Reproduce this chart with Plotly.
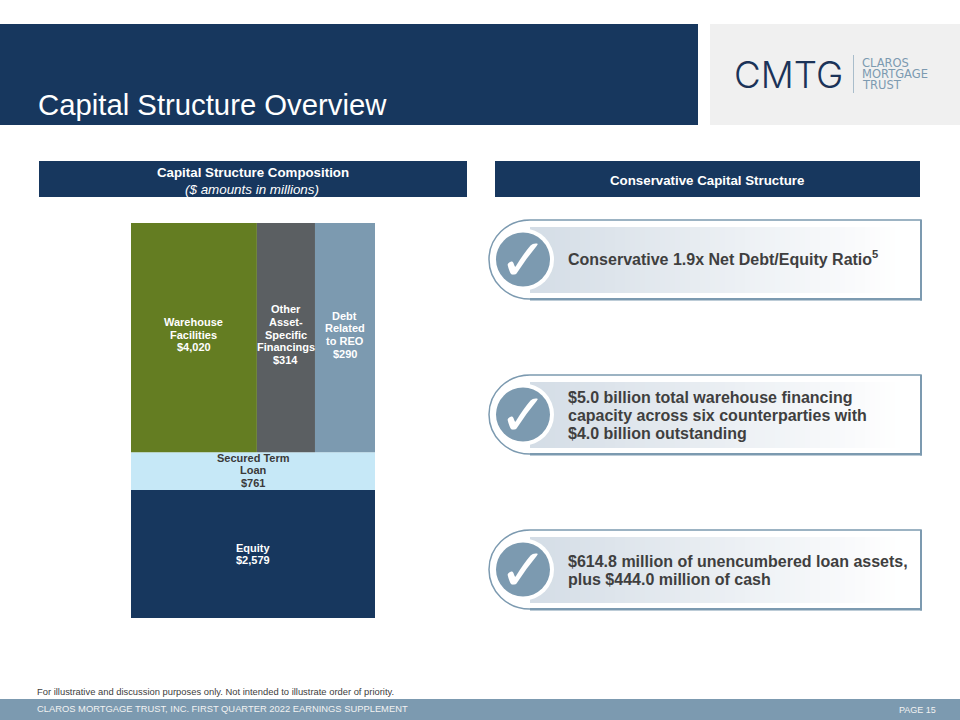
import plotly.graph_objects as go

# capital structure, $ millions
top_names = [["Warehouse", "Facilities"], ["Other", "Asset-", "Specific", "Financings"], ["Debt", "Related", "to REO"]]
top_values = [4020, 314, 290]
top_shares = [0.516, 0.238, 0.246]  # column widths are not to scale in the original
top_colors = ["#647D22", "#5B5F62", "#7C9AB0"]
stack_names = [["Equity"], ["Secured Term", "Loan"]]
stack_values = [2579, 761]
stack_colors = ["#17375E", "#C6E8F7"]
stack_text = ["#FFFFFF", "#3A3A3A"]
stack_lift = [0, 1]

callouts = [
    ["Conservative 1.9x Net Debt/Equity Ratio<sup>5</sup>"],
    ["$5.0 billion total warehouse financing", "capacity across six counterparties with", "$4.0 billion outstanding"],
    ["$614.8 million of unencumbered loan assets,", "plus $444.0 million of cash"],
]
callout_tops = [220, 375, 530]
callout_nudge = [-2, 0.5, 1]

NAVY = "#17375E"
STEEL = "#7C9AB0"
FONT = "Liberation Sans"


def rect(x0, y0, x1, y1, color, layer="below"):
    return dict(type="rect", xref="x2", yref="y2", x0=x0, y0=y0, x1=x1, y1=y1,
                fillcolor=color, line_width=0, layer=layer)


def label(x, y, text, size, color, anchor="left", family=FONT, weight=None):
    return dict(xref="x2", yref="y2", x=x, y=y, text=text, showarrow=False, xanchor=anchor, yanchor="middle",
                align=anchor, font=dict(family=family, size=size, color=color, weight=weight))


def bar_label(x, y, lines, color, lift=0):
    # plotly's own line height is too loose for these, so one annotation per line
    out = []
    for i, line in enumerate(lines):
        out.append(dict(x=x, y=y, xref="x", yref="y", text=f"<b>{line}</b>", showarrow=False,
                        yshift=lift + ((len(lines) - 1) / 2 - i) * 12.6,
                        font=dict(family=FONT, size=11, color=color)))
    return out


def mix(c0, c1, t):
    return "rgb(%d,%d,%d)" % tuple(round(a + (b - a) * t) for a, b in zip(c0, c1))


shapes = [
    rect(0, 24, 698, 125, NAVY),
    rect(710, 24, 960, 125, "#F0F0F0"),
    rect(39, 161, 467, 197, NAVY),
    rect(495, 161, 920, 197, NAVY),
    rect(0, 699, 960, 720, STEEL),
    rect(853, 55, 854, 93, "#A9BDCB"),
]
annotations = [
    label(36, 104, "Capital Structure Overview", 29.3, "#FFFFFF"),
    label(253, 172, "<b>Capital Structure Composition</b>", 13.3, "#FFFFFF", "center"),
    label(252, 189, "<i>($ amounts in millions)</i>", 13.4, "#FFFFFF", "center"),
    label(707, 180, "<b>Conservative Capital Structure</b>", 13.3, "#FFFFFF", "center"),
    label(732, 74, "CMTG", 36.7, "#1B3358", family="Inter", weight=300),
    label(860, 63, "CLAROS", 11.5, STEEL, family="DejaVu Sans"),
    label(860, 74, "MORTGAGE", 11.5, STEEL, family="DejaVu Sans"),
    label(860, 85, "TRUST", 11.5, STEEL, family="DejaVu Sans"),
    label(35, 691, "For illustrative and discussion purposes only. Not intended to illustrate order of priority.", 9.4, "#404040"),
    label(35, 709, "CLAROS MORTGAGE TRUST, INC. FIRST QUARTER 2022 EARNINGS SUPPLEMENT", 9.37, "#F2F2F2"),
    label(938, 710, "PAGE 15", 9, "#F2F2F2", "right"),
]

for top, lines, nudge in zip(callout_tops, callouts, callout_nudge):
    bot = top + 79
    mid = top + 39.5
    shapes.append(dict(type="path", xref="x2", yref="y2", layer="below", fillcolor="#FFFFFF",
                       line=dict(color=STEEL, width=1.5),
                       path=f"M 530 {top} L 921 {top} L 921 {bot} L 530 {bot} "
                            f"C 507 {bot} 489 {mid + 22} 489 {mid} C 489 {mid - 22} 507 {top} 530 {top} Z"))
    # heavier right and bottom edge
    shapes.append(rect(530, bot - 1, 922, bot + 1.5, STEEL))
    shapes.append(rect(920, top, 922, bot + 1.5, STEEL))
    # gradient band, white at the right
    n = 75
    for i in range(n):
        x0 = 530 + i * 5
        shapes.append(rect(x0, top + 7, x0 + 5.5, bot - 6, mix((212, 221, 230), (255, 255, 255), i / (n - 1))))
    shapes.append(dict(type="circle", xref="x2", yref="y2", layer="below", fillcolor="#FFFFFF", line_width=0,
                       x0=492, y0=mid - 31, x1=554, y1=mid + 31))
    shapes.append(dict(type="circle", xref="x2", yref="y2", layer="below", fillcolor=STEEL, line_width=0,
                       x0=496, y0=mid - 27, x1=550, y1=mid + 27))
    annotations.append(label(523, mid, "✓", 58, "#FFFFFF", "center"))
    for i, line in enumerate(lines):
        annotations.append(label(566, mid + nudge + (i - (len(lines) - 1) / 2) * 18, f"<b>{line}</b>", 16, "#3F3F3F"))

fig = go.Figure()

# equity and term loan run the full width of the column
base = 0
for name, value, color, txt, lift in zip(stack_names, stack_values, stack_colors, stack_text, stack_lift):
    fig.add_trace(go.Bar(x=[0.5], y=[value], base=[base], width=[1], marker=dict(color=color, line_width=0),
                         showlegend=False))
    annotations += bar_label(0.5, base + value / 2, name + [f"${value:,}"], txt, lift=lift)
    base += value

# debt facilities sit side by side on top
top_height = sum(top_values)
left = 0
for name, value, share, color in zip(top_names, top_values, top_shares, top_colors):
    fig.add_trace(go.Bar(x=[left + share / 2], y=[top_height], base=[base], width=[share],
                         marker=dict(color=color, line_width=0), showlegend=False))
    annotations += bar_label(left + share / 2, base + top_height / 2, name + [f"${value:,}"], "#FFFFFF", lift=3)
    left += share

fig.update_layout(
    width=960, height=720, margin=dict(l=0, r=0, t=0, b=0),
    paper_bgcolor="#FFFFFF", plot_bgcolor="rgba(0,0,0,0)", barmode="overlay",
    xaxis=dict(domain=[131 / 960, 375 / 960], range=[0, 1], visible=False),
    yaxis=dict(domain=[102 / 720, 497 / 720], range=[0, base + top_height], visible=False),
    # pixel-sized helper axes for the slide furniture
    xaxis2=dict(domain=[0, 1], range=[0, 960], visible=False, anchor="y2"),
    yaxis2=dict(domain=[0, 1], range=[720, 0], visible=False, anchor="x2"),
    shapes=shapes, annotations=annotations,
)
fig.write_html("out.html", config={"displayModeBar": False}, post_script="document.body.style.margin='0';")
